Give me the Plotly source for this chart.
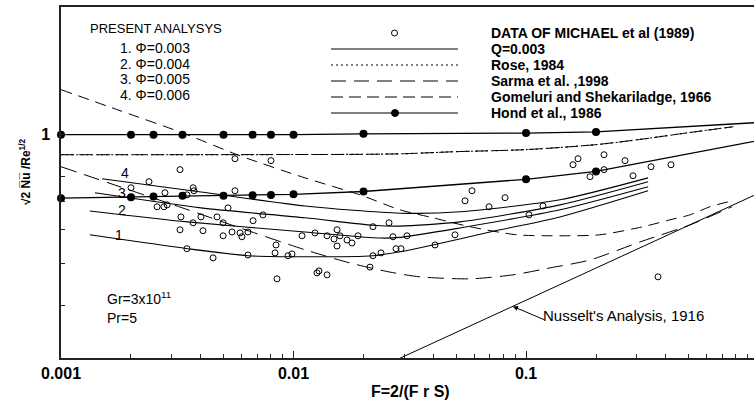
import math
import plotly.graph_objects as go

# ---------------- data ----------------
# Present analysis curves 1..4
c1_x = [0.00133, 0.0035, 0.00637, 0.0112, 0.022, 0.0287, 0.0398, 0.07, 0.14, 0.335]
c1_y = [0.584, 0.542, 0.522, 0.519, 0.522, 0.533, 0.553, 0.593, 0.643, 0.740]
c2_x = [0.00133, 0.0035, 0.0112, 0.0236, 0.0287, 0.052, 0.14, 0.335]
c2_y = [0.664, 0.626, 0.593, 0.574, 0.576, 0.606, 0.668, 0.756]
c3_x = [0.0014, 0.004, 0.0112, 0.022, 0.0287, 0.052, 0.14, 0.335]
c3_y = [0.732, 0.675, 0.640, 0.615, 0.612, 0.626, 0.686, 0.777]
c4_x = [0.0015, 0.004, 0.0112, 0.0287, 0.052, 0.14, 0.335]
c4_y = [0.789, 0.735, 0.682, 0.656, 0.661, 0.705, 0.793]

# Hond et al. (solid lines with filled dots)
hond_x = [0.001, 0.002, 0.0025, 0.00333, 0.005, 0.00667, 0.008, 0.01, 0.02, 0.1, 0.2]
hond_top_y = [1.0, 1.0, 1.0, 1.0, 1.0, 1.0, 1.0, 1.0, 1.005, 1.009, 1.015]
hond_low_y = [0.711, 0.715, 0.718, 0.720, 0.720, 0.722, 0.723, 0.726, 0.737, 0.787, 0.821]
hond_end_x = 1.0
hond_top_end_y = 1.068
hond_low_end_y = 0.969

# Rose (dotted) and overlapping dashed curve
rose_x = [0.001, 0.02, 0.03, 0.05, 0.1, 0.2, 0.3, 0.5, 0.78]
rose_y = [0.898, 0.900, 0.903, 0.913, 0.923, 0.948, 0.973, 1.011, 1.044]

# Gomeluri and Shekariladge (steep dashed)
gom_x = [0.001, 0.001794, 0.003314, 0.00589, 0.0112, 0.0193, 0.0287, 0.0398, 0.0574,
         0.0915, 0.140, 0.208, 0.3187, 0.416, 0.507, 0.618, 0.769]
gom_y = [1.274, 1.138, 1.011, 0.893, 0.793, 0.724, 0.668, 0.640, 0.610,
         0.584, 0.581, 0.584, 0.610, 0.633, 0.650, 0.679, 0.701]

# Sarma et al. (long dashed)
sarma_x = [0.001, 0.001794, 0.00352, 0.00589, 0.0112, 0.0175, 0.026, 0.035, 0.0574,
           0.0879, 0.127, 0.188, 0.309, 0.507, 0.769]
sarma_y = [0.842, 0.756, 0.668, 0.606, 0.539, 0.502, 0.478, 0.466, 0.461,
           0.471, 0.489, 0.510, 0.562, 0.616, 0.679]

# Nusselt's analysis, 1916
nus_x = [0.02, 1.0]
nus_y = [0.275, 0.73]

# Data of Michael et al (1989)
mich_x = [0.0056, 0.0080, 0.00325, 0.00239, 0.0020, 0.0028, 0.0037, 0.00373, 0.0056,
          0.00259, 0.00277, 0.00286, 0.00523, 0.00328, 0.0040, 0.00469, 0.00739, 0.0067,
          0.0037, 0.00498, 0.00348, 0.00325, 0.00408, 0.00498, 0.00544, 0.00589, 0.0060,
          0.00637, 0.00348, 0.00451, 0.00637, 0.00833, 0.00841, 0.00947, 0.00985, 0.00849,
          0.01088, 0.01237, 0.01394, 0.01539, 0.01494, 0.01585, 0.01539, 0.01699, 0.01785,
          0.01894, 0.01262, 0.01287, 0.01394, 0.02197, 0.02575, 0.02679, 0.03077, 0.02197,
          0.02378, 0.0276, 0.0290, 0.04061, 0.0495, 0.02133, 0.05858, 0.05466, 0.08123,
          0.06934, 0.103, 0.1183, 0.1674, 0.1593, 0.2165, 0.2666, 0.2165, 0.3449, 0.4205,
          0.1885, 0.2886, 0.3696]
mich_y = [0.879, 0.870, 0.829, 0.777, 0.752, 0.732, 0.752, 0.740, 0.740,
          0.679, 0.679, 0.686, 0.675, 0.643, 0.643, 0.643, 0.650, 0.630,
          0.623, 0.623, 0.724, 0.600, 0.597, 0.581, 0.593, 0.590, 0.578,
          0.593, 0.542, 0.516, 0.524, 0.530, 0.553, 0.522, 0.527, 0.461,
          0.581, 0.590, 0.581, 0.600, 0.571, 0.581, 0.550, 0.568, 0.559,
          0.581, 0.476, 0.481, 0.471, 0.610, 0.623, 0.578, 0.581, 0.522,
          0.530, 0.542, 0.542, 0.553, 0.584, 0.491, 0.740, 0.701, 0.713,
          0.679, 0.650, 0.682, 0.879, 0.851, 0.898, 0.870, 0.829, 0.842, 0.851,
          0.798, 0.802, 0.466]

x_ticks = [0.001, 0.01, 0.1]
x_ticklabels = ["0.001", "0.01", "0.1"]
y_ticks = [1]
y_ticklabels = ["1"]

# ---------------- figure ----------------
W, H = 754, 400
L, R, T, B = 61, 0, 7, 42
PW, PH = W - L - R, H - T - B


def pxx(xp):
    return (xp - L) / PW


def pxy(yp):
    return (H - B - yp) / PH


fig = go.Figure()
black = "#000000"


def line(x, y, dash="solid", width=1.0, shape="linear"):
    fig.add_trace(go.Scatter(x=x, y=y, mode="lines", showlegend=False, hoverinfo="skip",
                             line=dict(color=black, width=width, dash=dash, shape=shape,
                                       smoothing=0.7)))


for cx, cy in [(c1_x, c1_y), (c2_x, c2_y), (c3_x, c3_y), (c4_x, c4_y)]:
    line(cx, cy, width=1.1, shape="spline")

line(rose_x, rose_y, dash="2px,3px", width=1.1, shape="spline")
line(rose_x, rose_y, dash="13px,5px", width=1.0, shape="spline")
line(gom_x, gom_y, dash="11px,7px", width=1.0, shape="spline")
line(sarma_x, sarma_y, dash="16px,8px", width=1.0, shape="spline")
line(nus_x, nus_y, width=1.0)

line(hond_x + [hond_end_x], hond_top_y + [hond_top_end_y], width=1.3)
line(hond_x + [hond_end_x], hond_low_y + [hond_low_end_y], width=1.3)

fig.add_trace(go.Scatter(x=hond_x + hond_x, y=hond_top_y + hond_low_y, mode="markers",
                         showlegend=False, hoverinfo="skip", cliponaxis=False,
                         marker=dict(color=black, size=8, symbol="circle")))

fig.add_trace(go.Scatter(x=mich_x, y=mich_y, mode="markers", showlegend=False,
                         hoverinfo="skip",
                         marker=dict(symbol="circle-open", size=6, color=black,
                                     line=dict(width=1, color=black))))

# ---------------- annotations ----------------
ann = []
FONT = "Arial, Liberation Sans, sans-serif"


def text(t, xp, yp, size=13, bold=False, xanchor="left"):
    ann.append(dict(text=t, x=pxx(xp), y=pxy(yp), xref="paper", yref="paper",
                    xanchor=xanchor, yanchor="middle", showarrow=False,
                    font=dict(family=FONT, size=size, color=black,
                              weight="bold" if bold else "normal")))


text("PRESENT ANALYSYS", 88, 29, size=13)
for lab, yy in [("1. Φ=0.003", 48), ("2. Φ=0.004", 64),
                ("3. Φ=0.005", 79), ("4. Φ=0.006", 95)]:
    text(lab, 118, yy, size=14)

legend_labels = ["DATA OF MICHAEL et al (1989)", "Q=0.003", "Rose, 1984",
                 "Sarma et al. ,1998", "Gomeluri and Shekariladge, 1966",
                 "Hond et al., 1986"]
legend_y = [33, 49, 65, 81, 97, 113]
for lab, yy in zip(legend_labels, legend_y):
    text(lab, 489, yy, size=14, bold=True)

for lab, xx, yy in [("4", 125, 173), ("3", 122, 193), ("2", 122, 210), ("1", 119, 235)]:
    text(lab, xx, yy, size=14, xanchor="center")

text("Gr=3x10<sup>11</sup>", 105, 298, size=14)
text("Pr=5", 105, 318, size=14)
text("Nusselt's Analysis, 1916", 541, 315, size=15)
text("F=2/(F r S)", 410, 391, size=16, bold=True, xanchor="center")

ann.append(dict(text="√2 N̅u̅ /Re<sup>1/2</sup>", x=pxx(25), y=pxy(172), xref="paper",
                yref="paper", textangle=-90, showarrow=False, xanchor="center",
                yanchor="middle", font=dict(family=FONT, size=12, color=black,
                                            weight="bold")))

# arrow to Nusselt's line
arrow_x = 0.0879
arrow_y = 0.3975
ann.append(dict(text="", x=math.log10(arrow_x), y=math.log10(arrow_y), xref="x", yref="y",
                showarrow=True, ax=33, ay=14, arrowhead=2, arrowsize=1, arrowwidth=1,
                arrowcolor=black))

# ---------------- legend samples (layout decoration) ----------------
shapes = []
for yy, dash in [(49, "solid"), (65, "2px,3px"), (81, "15px,8px"), (97, "12px,6px"),
                 (113, "solid")]:
    shapes.append(dict(type="line", xref="paper", yref="paper", x0=pxx(331), x1=pxx(458),
                       y0=pxy(yy), y1=pxy(yy), line=dict(color=black, width=1.1, dash=dash)))
shapes.append(dict(type="circle", xref="paper", yref="paper", x0=pxx(391.5), x1=pxx(398.5),
                   y0=pxy(109.5), y1=pxy(116.5), fillcolor=black, line=dict(color=black, width=1)))
shapes.append(dict(type="circle", xref="paper", yref="paper", x0=pxx(391.5), x1=pxx(397.5),
                   y0=pxy(30), y1=pxy(36), line=dict(color=black, width=1)))

x_minor = [m * 10 ** e for e in (-3, -2, -1) for m in range(2, 10)]
y_minor = [0.4, 0.5, 0.6, 0.7, 0.8, 0.9]

fig.update_layout(
    template="none",
    width=W, height=H,
    margin=dict(l=L, r=R, t=T, b=B, pad=0, autoexpand=False),
    paper_bgcolor="white", plot_bgcolor="white",
    showlegend=False,
    annotations=ann,
    shapes=shapes,
    xaxis=dict(type="log", range=[-3, -0.0194], showgrid=False, automargin=False,
               showline=True, linecolor="#222", linewidth=1.5, mirror=True,
               ticks="inside", ticklen=7, tickcolor="#222", tickwidth=1,
               tickvals=x_ticks, ticktext=x_ticklabels,
               tickfont=dict(family=FONT, size=16, color=black, weight="bold"),
               minor=dict(tickvals=x_minor, ticks="inside", ticklen=4, tickcolor="#222"),
               zeroline=False),
    yaxis=dict(type="log", range=[-0.521, 0.298], showgrid=False, automargin=False,
               showline=True, linecolor="#222", linewidth=1.5, mirror=False,
               ticks="inside", ticklen=7, tickcolor="#222", tickwidth=1,
               tickvals=y_ticks, ticktext=y_ticklabels, ticklabelstandoff=6,
               tickfont=dict(family=FONT, size=16, color=black, weight="bold"),
               minor=dict(tickvals=y_minor, ticks="inside", ticklen=4, tickcolor="#222"),
               zeroline=False),
)

fig.write_html("out.html", config={"displayModeBar": False},
               post_script="document.body.style.margin='0px';"
                           "document.body.style.overflow='hidden';")
